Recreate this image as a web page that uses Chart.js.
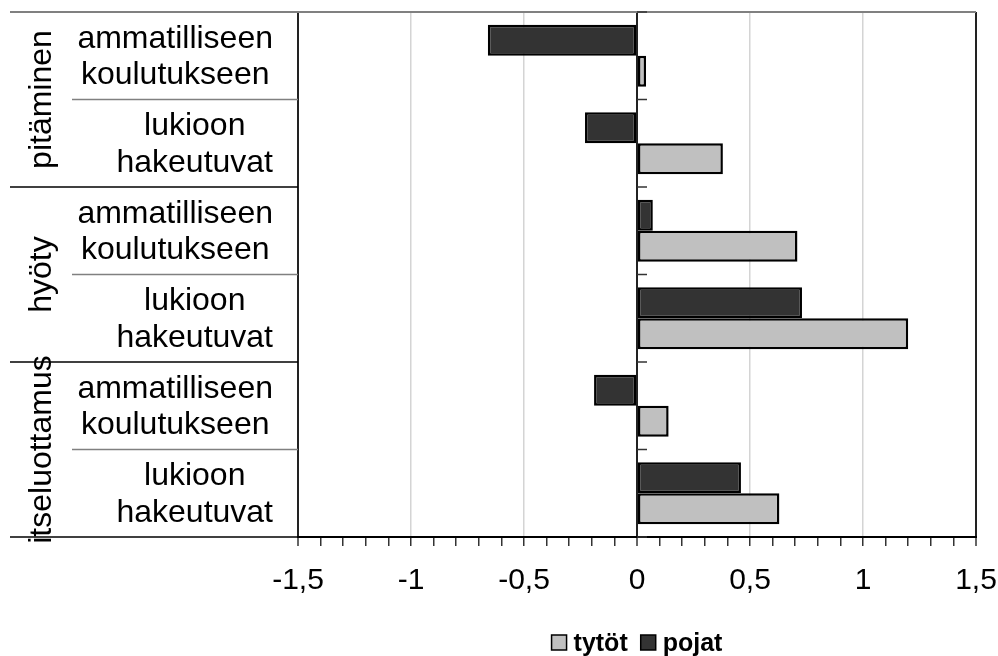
<!DOCTYPE html>
<html>
<head>
<meta charset="utf-8">
<script src="https://cdn.jsdelivr.net/npm/chart.js@4/dist/chart.umd.min.js"></script>
<style>
  body { margin: 0; background: #fff; }
  #wrap { width: 998px; height: 656px; }
</style>
</head>
<body>
<div id="wrap"><canvas id="myChart" width="998" height="656"></canvas></div>
<script>
// groups (outer level) and the two sub rows in each group
const groups = ['pitäminen', 'hyöty', 'itseluottamus'];
const subLabels = [['ammatilliseen', 'koulutukseen'], ['lukioon', 'hakeutuvat']];
const rowLabels = ['pitäminen ammatilliseen', 'pitäminen lukioon',
                   'hyöty ammatilliseen', 'hyöty lukioon',
                   'itseluottamus ammatilliseen', 'itseluottamus lukioon'];

const pojat = [-0.66, -0.23, 0.07, 0.73, -0.19, 0.46];
const tytot = [0.04, 0.38, 0.71, 1.20, 0.14, 0.63];

const tickLabels = ['-1,5', '-1', '-0,5', '0', '0,5', '1', '1,5'];

const FONT = '"Liberation Sans", Arial, sans-serif';

const labelPlugin = {
    id: 'multiLevelLabels',
    afterDraw(chart) {
        const { ctx, chartArea, scales } = chart;
        const y = scales.y, x = scales.x;
        const n = rowLabels.length;
        const edge = i => i === 0 ? chartArea.top : i === n ? chartArea.bottom
            : (y.getPixelForValue(i - 1) + y.getPixelForValue(i)) / 2;
        const x0 = x.getPixelForValue(0);

        ctx.save();
        // top border
        ctx.strokeStyle = '#808080';
        ctx.lineWidth = 2;
        ctx.beginPath();
        ctx.moveTo(10, chartArea.top);
        ctx.lineTo(chartArea.right, chartArea.top);
        ctx.stroke();

        // row separators in the label area
        for (let i = 1; i <= n; i++) {
            const yy = edge(i);
            const outer = i % 2 === 0;
            ctx.strokeStyle = outer ? '#000' : '#808080';
            ctx.lineWidth = 1.5;
            ctx.beginPath();
            ctx.moveTo(outer ? 10 : 72, yy);
            ctx.lineTo(chartArea.left, yy);
            ctx.stroke();
        }

        // little category ticks on the zero axis
        ctx.strokeStyle = '#333';
        ctx.lineWidth = 1.5;
        for (let i = 0; i <= n; i++) {
            const yy = edge(i);
            ctx.beginPath();
            ctx.moveTo(x0, yy);
            ctx.lineTo(x0 + 10, yy);
            ctx.stroke();
        }

        // inner labels
        ctx.fillStyle = '#000';
        ctx.font = '32px ' + FONT;
        ctx.textAlign = 'center';
        ctx.textBaseline = 'middle';
        for (let i = 0; i < n; i++) {
            const lines = subLabels[i % 2];
            const w = Math.max(...lines.map(l => ctx.measureText(l).width));
            const cx = 273 - w / 2;
            const cy = y.getPixelForValue(i);
            ctx.fillText(lines[0], cx, cy - 17);
            ctx.fillText(lines[1], cx, cy + 19.5);
        }

        // outer (rotated) labels
        ctx.textBaseline = 'alphabetic';
        groups.forEach((g, gi) => {
            const cy = (edge(gi * 2) + edge(gi * 2 + 2)) / 2;
            ctx.save();
            ctx.translate(51, cy);
            ctx.rotate(-Math.PI / 2);
            ctx.fillText(g, 0, 0);
            ctx.restore();
        });

        // legend (tytöt first, then pojat)
        const items = [chart.data.datasets[1], chart.data.datasets[0]];
        ctx.font = 'bold 25px ' + FONT;
        ctx.textAlign = 'left';
        ctx.textBaseline = 'alphabetic';
        const box = 15, gap = 7, itemGap = 13;
        const widths = items.map(d => ctx.measureText(d.label).width);
        const total = items.length * (box + gap) + widths.reduce((a, b) => a + b, 0) + itemGap * (items.length - 1);
        let lx = 637 - total / 2;
        const base = 651;
        items.forEach((d, k) => {
            ctx.fillStyle = d.backgroundColor;
            ctx.fillRect(lx, base - 16, box, box);
            ctx.strokeStyle = '#000';
            ctx.lineWidth = 1.5;
            ctx.strokeRect(lx, base - 16, box, box);
            ctx.fillStyle = '#000';
            ctx.fillText(d.label, lx + box + gap, base);
            lx += box + gap + widths[k] + itemGap;
        });
        ctx.restore();
    }
};

const isMajor = v => Math.round(v * 10) % 5 === 0;

const ctx = document.getElementById('myChart').getContext('2d');
const myChart = new Chart(ctx, {
    type: 'bar',
    data: {
        labels: rowLabels,
        datasets: [{
            label: 'pojat',
            data: pojat,
            backgroundColor: '#333333',
            borderColor: '#000',
            borderWidth: 2.5,
            borderSkipped: false
        }, {
            label: 'tytöt',
            data: tytot,
            backgroundColor: '#c0c0c0',
            borderColor: '#000',
            borderWidth: 2.5,
            borderSkipped: false
        }]
    },
    options: {
        indexAxis: 'y',
        responsive: false,
        animation: false,
        devicePixelRatio: 1,
        layout: { padding: { left: 298, right: 22, top: 12, bottom: 0 } },
        datasets: { bar: { categoryPercentage: 0.71, barPercentage: 1.0 } },
        plugins: {
            legend: { display: false },
            tooltip: { enabled: false }
        },
        scales: {
            y: { display: false, offset: true },
            x: {
                min: -1.5,
                max: 1.5,
                ticks: {
                    stepSize: 0.1,
                    autoSkip: false,
                    maxRotation: 0,
                    minRotation: 0,
                    padding: 0,
                    color: '#000',
                    font: { family: FONT, size: 30, lineHeight: 2.3 },
                    callback: v => isMajor(v) ? tickLabels[(Math.round(v * 10) + 15) / 5] : ''
                },
                grid: {
                    color: c => {
                        const v = Math.round(c.tick.value * 10);
                        if (v === 0 || v === 15 || v === -15) return '#222';
                        return v % 5 === 0 ? '#d4d4d4' : 'rgba(0,0,0,0)';
                    },
                    lineWidth: c => Math.round(c.tick.value * 10) % 15 === 0 ? 2 : 1.5,
                    tickColor: '#333',
                    tickLength: 9,
                    tickWidth: 1.5
                },
                border: { color: '#000', width: 2 },
                afterFit: s => { s.height = 119; }
            }
        }
    },
    plugins: [labelPlugin]
});
</script>
</body>
</html>
